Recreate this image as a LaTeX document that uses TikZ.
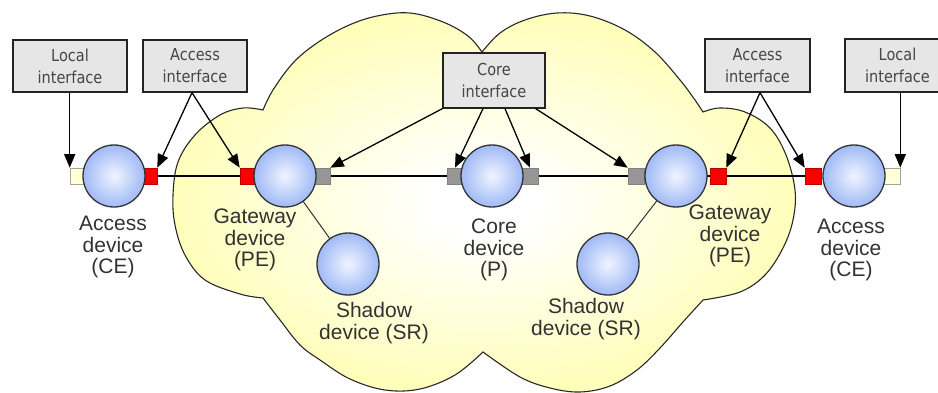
\documentclass[tikz,border=0pt]{standalone}
\usepackage{fontspec}
\setmainfont{Liberation Sans}
\newfontfamily\boxfont{DejaVu Sans}[FakeStretch=0.88]
\usetikzlibrary{arrows.meta}

\definecolor{cloudyel}{RGB}{255,254,186}
\definecolor{cloudline}{RGB}{40,40,40}
\definecolor{devin}{RGB}{240,244,255}
\definecolor{devout}{RGB}{160,186,246}
\definecolor{devline}{RGB}{50,50,55}
\definecolor{boxfill}{RGB}{230,230,230}
\definecolor{boxline}{RGB}{35,35,35}
\definecolor{boxtext}{RGB}{70,70,70}
\definecolor{labeltext}{RGB}{50,50,50}
\definecolor{portred}{RGB}{250,0,0}
\definecolor{portgrey}{RGB}{150,150,150}
\definecolor{localfill}{RGB}{255,255,218}
\definecolor{localline}{RGB}{165,165,150}

\pgfdeclareradialshading{cloudglow}{\pgfpoint{0bp}{0bp}}{%
  color(0bp)=(white); color(4bp)=(white); color(25bp)=(cloudyel); color(50bp)=(cloudyel)}

\pgfdeclarelayer{underlay}
\pgfsetlayers{underlay,main}

\begin{document}
\begin{tikzpicture}[x=1pt, y=-1pt,
  device/.style={circle, minimum size=62pt, inner sep=0pt, draw=devline,
    line width=1.3pt, inner color=devin, outer color=devout},
  port/.style={rectangle, minimum width=16pt, minimum height=16pt, inner sep=0pt, line width=0.6pt},
  redport/.style={port, fill=portred, draw=portred!75!black},
  greyport/.style={port, fill=portgrey, draw=portgrey!85!black},
  localport/.style={port, fill=localfill, draw=localline},
  ifbox/.style={draw=boxline, line width=1.3pt, fill=boxfill, align=center, inner sep=0pt,
    font=\boxfont\fontsize{16.5}{22}\selectfont, text=boxtext},
  devlabel/.style={align=center, inner sep=0pt, text=labeltext,
    font=\fontsize{21}{21.5}\selectfont},
  link/.style={draw=black, line width=1.2pt},
  sublink/.style={draw=black!80, line width=1pt},
  pointer/.style={draw=black, line width=1.3pt, -{Triangle[length=13.5pt,width=11pt]}}]

\path[use as bounding box] (0,0) rectangle (938,393);
\clip (0,0) rectangle (938,393);

% the two overlapping network clouds, drawn as one outline
\begin{pgfonlayer}{underlay}
\shadedraw[shading=cloudglow, draw=cloudline, line width=1.1pt]
  plot[smooth, tension=0.6] coordinates {(263,110) (273,90) (293,63) (317,43) (347,26) (377,16) (410,13) (443,22) (468,36) (482,52)}
  -- plot[smooth, tension=0.6] coordinates {(482,52) (500,33) (525,20) (557,13) (590,16) (625,30) (655,52) (680,80) (695,100) (703,112)}
  -- plot[smooth, tension=0.6] coordinates {(703,112) (720,108) (745,112) (770,128) (786,155) (795,190) (793,220) (783,248) (765,275) (740,292) (703,300)}
  -- plot[smooth, tension=0.6] coordinates {(703,300) (683,322) (660,348) (637,370) (610,386) (580,392) (550,388) (520,377) (483,352)}
  -- plot[smooth, tension=0.6] coordinates {(483,352) (455,375) (420,389) (385,390) (350,379) (320,360) (300,345) (280,320) (263,298)}
  -- plot[smooth, tension=0.6] coordinates {(263,298) (240,294) (205,280) (185,255) (175,225) (173,195) (178,162) (195,135) (220,115) (243,108) (263,110)}
  -- cycle;
\end{pgfonlayer}

% interfaces on the device chain
\node[localport] (sqLl)  at (78,176)  {};
\node[redport]   (sqCLr) at (149,176) {};
\node[redport]   (sqGLr) at (248,176) {};
\node[greyport]  (sqGLg) at (322,176) {};
\node[greyport]  (sqPl)  at (455,176) {};
\node[greyport]  (sqPr)  at (530,176) {};
\node[greyport]  (sqGRg) at (636,176) {};
\node[redport]   (sqGRr) at (718,176) {};
\node[redport]   (sqCRr) at (813,176) {};
\node[localport] (sqRl)  at (892,176) {};

% devices
\node[device] (ceL)  at (114,176) {};
\node[device] (gwL)  at (285,176) {};
\node[device] (core) at (492,176) {};
\node[device] (gwR)  at (676,176) {};
\node[device] (ceR)  at (854,176) {};
\node[device] (shL)  at (348,264) {};
\node[device] (shR)  at (608,264) {};

% the main link and the shadow links, kept under ports and devices
\begin{pgfonlayer}{underlay}
\path[link] (sqCLr.center) -- (sqCRr.center);
\path[sublink] (gwL.center) -- (shL.center);
\path[sublink] (gwR.center) -- (shR.center);
\end{pgfonlayer}

% device captions
\node[devlabel] (tceL)  at (113,247) {Access\\device\\(CE)};
\node[devlabel] (tgwL)  at (255,240) {Gateway\\device\\(PE)};
\node[devlabel] (tshL)  at (374,323) {Shadow\\device (SR)};
\node[devlabel] (tcore) at (494,250) {Core\\device\\(P)};
\node[devlabel] (tgwR)  at (730,236) {Gateway\\device\\(PE)};
\node[devlabel] (tshR)  at (586,319) {Shadow\\device (SR)};
\node[devlabel] (tceR)  at (851,250) {Access\\device\\(CE)};

% interface callouts
\node[ifbox, minimum width=114pt, minimum height=52pt] (lclL) at (70,66)    {Local\\interface};
\node[ifbox, minimum width=104pt, minimum height=52pt] (accL) at (195,66)   {Access\\interface};
\node[ifbox, minimum width=102pt, minimum height=55pt] (cif)  at (494,80.5) {Core\\interface};
\node[ifbox, minimum width=105pt, minimum height=53pt] (accR) at (757.5,65.5) {Access\\interface};
\node[ifbox, minimum width=105pt, minimum height=53pt] (lclR) at (897.5,65.5) {Local\\interface};

% callout pointers
\draw[pointer] (lclL.south -| sqLl.north west) -- (sqLl.north west);
\draw[pointer] ([xshift=-3pt]accL.south) -- (sqCLr.north east);
\draw[pointer] ([xshift=-3pt]accL.south) -- (sqGLr.north west);
\draw[pointer] (cif.south west) -- (sqGLg.north east);
\draw[pointer] ([xshift=-11pt]cif.south) -- (sqPl.north);
\draw[pointer] ([xshift=11pt]cif.south) -- (sqPr.north);
\draw[pointer] ([xshift=-10pt]cif.south east) -- (sqGRg.north west);
\draw[pointer] ([xshift=2.5pt]accR.south) -- (sqGRr.north east);
\draw[pointer] ([xshift=2.5pt]accR.south) -- (sqCRr.north west);
\draw[pointer] (lclR.south -| sqRl.north east) -- (sqRl.north east);
\end{tikzpicture}
\end{document}
